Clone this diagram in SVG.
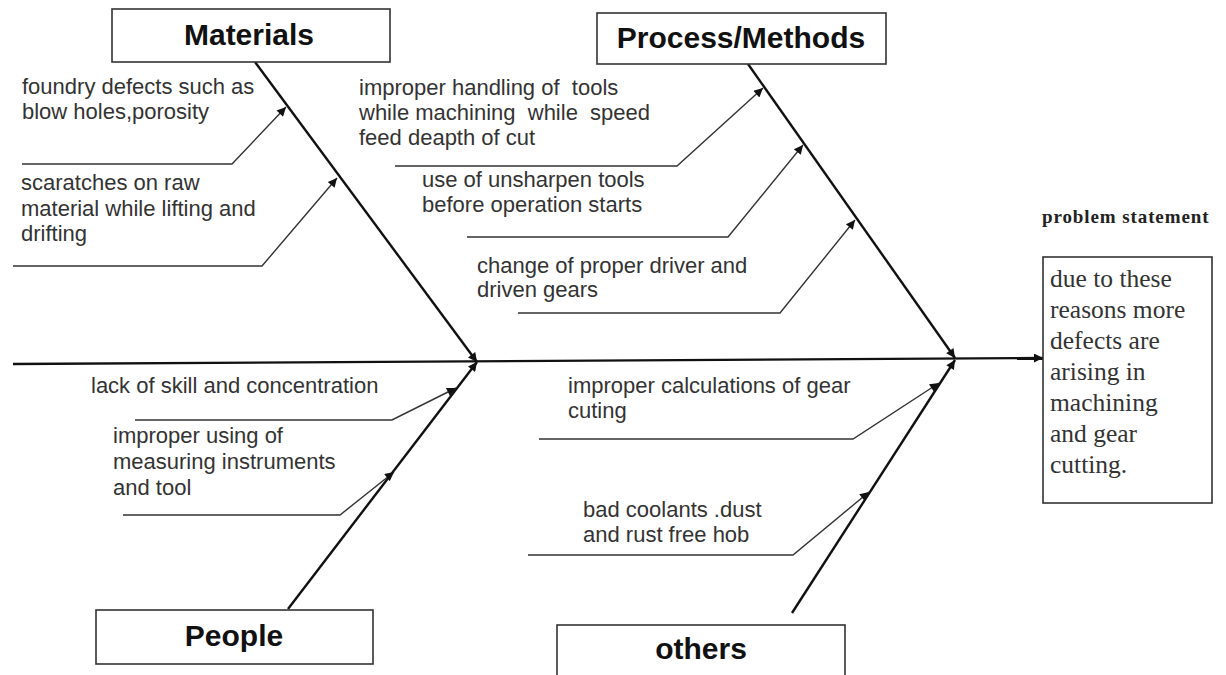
<svg xmlns="http://www.w3.org/2000/svg" width="1226" height="675" viewBox="0 0 1226 675">
<defs>
<marker id="ah" viewBox="0 0 10 10" refX="10" refY="5" markerWidth="11" markerHeight="9" markerUnits="userSpaceOnUse" orient="auto"><path d="M0,0 L10,5 L0,10 z" fill="#111"/></marker>
<marker id="ahs" viewBox="0 0 10 10" refX="10" refY="5" markerWidth="12" markerHeight="9" markerUnits="userSpaceOnUse" orient="auto"><path d="M0,0 L10,5 L0,10 z" fill="#111"/></marker>
</defs>
<style>
.box{fill:#fff;stroke:#333;stroke-width:1.6}
.lbl{font-family:"Liberation Sans",Arial,sans-serif;font-weight:bold;font-size:30px;fill:#111;text-anchor:middle}
.t{font-family:"Liberation Sans",Arial,sans-serif;font-size:22px;fill:#333}
.bone{stroke:#111;stroke-width:2.4;fill:none}
.sub{stroke:#333;stroke-width:1.4;fill:none}
.ps{font-family:"Liberation Serif","Times New Roman",serif;font-size:25.5px;fill:#333}
</style>
<rect width="1226" height="675" fill="#fff"/>
<g id="connectors">
<line class="bone" x1="13" y1="364" x2="1043" y2="358" stroke-width="3" marker-end="url(#ah)"/>
<line class="bone" x1="255" y1="62" x2="477" y2="362" marker-end="url(#ah)"/>
<line class="bone" x1="748" y1="64" x2="955" y2="358" marker-end="url(#ah)"/>
<line class="bone" x1="288" y1="609" x2="477" y2="362" marker-end="url(#ah)"/>
<line class="bone" x1="792" y1="613" x2="955" y2="360" marker-end="url(#ah)"/>
<polyline class="sub" points="22,164 232,164 286,107" marker-end="url(#ahs)"/>
<polyline class="sub" points="13,266 262,266 337,178" marker-end="url(#ahs)"/>
<polyline class="sub" points="395,166 677,166 763,88" marker-end="url(#ahs)"/>
<polyline class="sub" points="467,237 728,237 803,145" marker-end="url(#ahs)"/>
<polyline class="sub" points="518,313 780,313 855,220" marker-end="url(#ahs)"/>
<polyline class="sub" points="135,420 392,420 456,388" marker-end="url(#ahs)"/>
<polyline class="sub" points="123,515 340,515 394,472" marker-end="url(#ahs)"/>
<polyline class="sub" points="539,439 853,439 939,383" marker-end="url(#ahs)"/>
<polyline class="sub" points="528,555 793,555 869,492" marker-end="url(#ahs)"/>
</g>
<g id="materials">
<rect class="box" x="112" y="9" width="278" height="53"/>
<text class="lbl" x="249" y="45">Materials</text>
</g>
<g id="process">
<rect class="box" x="597" y="13" width="289" height="51"/>
<text class="lbl" x="741" y="48">Process/Methods</text>
</g>
<g id="people">
<rect class="box" x="96" y="610" width="277" height="54"/>
<text class="lbl" x="234" y="646">People</text>
</g>
<g id="others">
<rect class="box" x="557" y="625" width="288" height="60"/>
<text class="lbl" x="701" y="659">others</text>
</g>
<g id="cause-materials-1"><text class="t" x="22" y="94">foundry defects such as</text><text class="t" x="22" y="119">blow holes,porosity</text></g>
<g id="cause-materials-2"><text class="t" x="21" y="190">scaratches on raw</text><text class="t" x="21" y="216">material while lifting and</text><text class="t" x="21" y="241">drifting</text></g>
<g id="cause-process-1"><text class="t" x="359" y="95" xml:space="preserve">improper handling of  tools</text><text class="t" x="359" y="120" xml:space="preserve">while machining  while  speed</text><text class="t" x="359" y="145">feed deapth of cut</text></g>
<g id="cause-process-2"><text class="t" x="422" y="187">use of unsharpen tools</text><text class="t" x="422" y="212">before operation starts</text></g>
<g id="cause-process-3"><text class="t" x="477" y="273">change of proper driver and</text><text class="t" x="477" y="297">driven gears</text></g>
<g id="cause-people-1"><text class="t" x="91" y="393">lack of skill and concentration</text></g>
<g id="cause-people-2"><text class="t" x="113" y="443">improper using of</text><text class="t" x="113" y="469">measuring instruments</text><text class="t" x="113" y="495">and tool</text></g>
<g id="cause-others-1"><text class="t" x="568" y="393">improper calculations of gear</text><text class="t" x="568" y="418">cuting</text></g>
<g id="cause-others-2"><text class="t" x="583" y="517">bad coolants .dust</text><text class="t" x="583" y="542">and rust free hob</text></g>
<g id="problem">
<text x="1042" y="223" font-family="'Liberation Serif','Times New Roman',serif" font-weight="bold" font-size="19" letter-spacing="0.9" fill="#222">problem statement</text>
<rect class="box" x="1043" y="257" width="169" height="246"/>
<text class="ps" x="1050" y="287">due to these</text>
<text class="ps" x="1050" y="318">reasons more</text>
<text class="ps" x="1050" y="349">defects are</text>
<text class="ps" x="1050" y="380">arising in</text>
<text class="ps" x="1050" y="411">machining</text>
<text class="ps" x="1050" y="442">and gear</text>
<text class="ps" x="1050" y="473">cutting.</text>
</g>
</svg>
